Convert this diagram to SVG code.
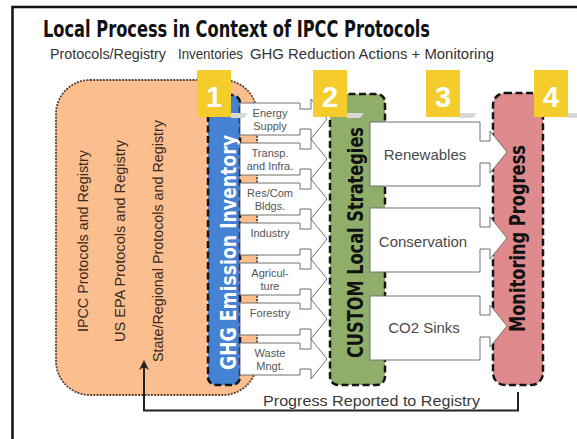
<svg xmlns="http://www.w3.org/2000/svg" width="577" height="439" viewBox="0 0 577 439">
<defs>
<marker id="ah" viewBox="0 0 10 10" refX="8" refY="5" markerWidth="5" markerHeight="5" orient="auto" markerUnits="strokeWidth">
<path d="M0,0 L10,5 L0,10 L3,5 Z" fill="#222"/>
</marker>
</defs>
<style>
.frame{fill:#fff;stroke:#111;stroke-width:2.5}
.dash{stroke:#151515;stroke-width:2.5;stroke-dasharray:7 3.5}
.odash{stroke:#5a4030;stroke-width:1.8;stroke-dasharray:2 1.2}
.item{fill:#fff;stroke:#707070;stroke-width:1}
.itxt{font-family:"Liberation Sans",Arial,sans-serif;font-size:11px;fill:#555;text-anchor:middle}
.stxt{font-family:"Liberation Sans",Arial,sans-serif;font-size:15px;fill:#4a4a4a;text-anchor:middle}
.otxt{font-family:"Liberation Sans",Arial,sans-serif;font-size:14px;fill:#3a2a20;text-anchor:middle}
.big{font-family:"DejaVu Sans Condensed","DejaVu Sans",sans-serif;font-weight:bold;font-size:22px;text-anchor:middle}
.num{font-family:"Liberation Sans",Arial,sans-serif;font-weight:bold;font-size:29px;fill:#fff;text-anchor:middle}
.yel{fill:#F4CC2C}
.shadow{fill:#d8d8d8}
.sub{font-family:"Liberation Sans",Arial,sans-serif;font-size:14px;fill:#333}
</style>
<rect class="frame" x="12.5" y="7" width="600" height="460"/>
<text x="43" y="37" font-family="DejaVu Sans Condensed, DejaVu Sans, sans-serif" font-weight="bold" font-size="23.5" fill="#111" textLength="387" lengthAdjust="spacingAndGlyphs">Local Process in Context of IPCC Protocols</text>
<text class="sub" y="59"><tspan x="50" textLength="116" lengthAdjust="spacingAndGlyphs">Protocols/Registry</tspan><tspan x="178" textLength="65" lengthAdjust="spacingAndGlyphs">Inventories</tspan><tspan x="250" textLength="244" lengthAdjust="spacingAndGlyphs">GHG Reduction Actions + Monitoring</tspan></text>

<g id="protocols">
<rect class="odash" x="56" y="80" width="201" height="315" rx="34" fill="#FBBE8F"/>
<text class="otxt" transform="translate(88,241) rotate(-90)" textLength="182" lengthAdjust="spacingAndGlyphs">IPCC Protocols and Registry</text>
<text class="otxt" transform="translate(125,241) rotate(-90)" textLength="202" lengthAdjust="spacingAndGlyphs">US EPA Protocols and Registry</text>
<text class="otxt" transform="translate(163,241) rotate(-90)" textLength="242" lengthAdjust="spacingAndGlyphs">State/Regional Protocols and Registry</text>
</g>

<g id="inventory">
<rect class="dash" x="208" y="95" width="32" height="290" rx="8" fill="#4582D3"/>
<text class="big" fill="#fff" transform="translate(236,252.5) rotate(-90)" textLength="235" lengthAdjust="spacingAndGlyphs">GHG Emission Inventory</text>
</g>

<g id="strategies">
<rect class="dash" x="330" y="94" width="55" height="291" rx="8" fill="#8FAE6A"/>
<text class="big" fill="#111" transform="translate(363,242.5) rotate(-90)" textLength="231" lengthAdjust="spacingAndGlyphs">CUSTOM Local Strategies</text>
</g>

<g id="monitoring">
<rect class="dash" x="493" y="93" width="50" height="292" rx="12" fill="#DF8B8D"/>
<text class="big" fill="#111" transform="translate(525,238.5) rotate(-90)" textLength="187" lengthAdjust="spacingAndGlyphs">Monitoring Progress</text>
</g>

<g id="item-energy">
<path class="item" d="M240,103 H300 V109 H311 V99 L327,119 L311,139 V129 H300 V135 H240 Z"/>
<text class="itxt" x="270" y="117">Energy</text><text class="itxt" x="270" y="130">Supply</text>
</g>
<g id="item-transp">
<path class="item" d="M240,143 H300 V149 H311 V139 L327,159 L311,179 V169 H300 V175 H240 Z"/>
<text class="itxt" x="270" y="157">Transp.</text><text class="itxt" x="270" y="170">and Infra.</text>
</g>
<g id="item-rescom">
<path class="item" d="M240,183 H300 V189 H311 V179 L327,199 L311,219 V209 H300 V215 H240 Z"/>
<text class="itxt" x="270" y="197">Res/Com</text><text class="itxt" x="270" y="210">Bldgs.</text>
</g>
<g id="item-industry">
<path class="item" d="M240,223 H300 V229 H311 V219 L327,239 L311,259 V249 H300 V255 H240 Z"/>
<text class="itxt" x="270" y="237">Industry</text>
</g>
<g id="item-agri">
<path class="item" d="M240,263 H300 V269 H311 V259 L327,279 L311,299 V289 H300 V295 H240 Z"/>
<text class="itxt" x="270" y="277">Agricul-</text><text class="itxt" x="270" y="290">ture</text>
</g>
<g id="item-forestry">
<path class="item" d="M240,303 H300 V309 H311 V299 L327,319 L311,339 V329 H300 V335 H240 Z"/>
<text class="itxt" x="270" y="317">Forestry</text>
</g>
<g id="item-waste">
<path class="item" d="M240,343 H300 V349 H311 V339 L327,359 L311,379 V369 H300 V375 H240 Z"/>
<text class="itxt" x="270" y="357">Waste</text><text class="itxt" x="270" y="370">Mngt.</text>
</g>

<g id="renewables">
<path class="item" d="M370,122 H480 V141 H490 V131 L507,152 L490,173 V163 H480 V186 H370 Z"/>
<text class="stxt" x="425" y="160">Renewables</text>
</g>
<g id="conservation">
<path class="item" d="M370,208 H480 V227 H490 V217 L507,238 L490,259 V249 H480 V272 H370 Z"/>
<text class="stxt" x="423" y="247">Conservation</text>
</g>
<g id="co2sinks">
<path class="item" d="M370,296 H480 V315 H490 V305 L507,326 L490,347 V337 H480 V360 H370 Z"/>
<text class="stxt" x="424" y="333">CO2 Sinks</text>
</g>

<g id="badge-1"><polygon class="shadow" points="231,113 248,113 244,118 231,118"/><rect class="yel" x="197" y="70" width="34" height="47"/><text class="num" x="214" y="107">1</text></g>
<g id="badge-2"><polygon class="shadow" points="347,113 364,113 360,118 347,118"/><rect class="yel" x="313" y="70" width="34" height="47"/><text class="num" x="330" y="107">2</text></g>
<g id="badge-3"><polygon class="shadow" points="460,113 477,113 473,118 460,118"/><rect class="yel" x="426" y="70" width="34" height="47"/><text class="num" x="443" y="107">3</text></g>
<g id="badge-4"><polygon class="shadow" points="568,113 577,113 577,118 568,118"/><rect class="yel" x="534" y="70" width="34" height="47"/><text class="num" x="551" y="107">4</text></g>

<g id="connectors">
<path d="M518,392 V410.5 H144 V362" fill="none" stroke="#222" stroke-width="2" marker-end="url(#ah)"/>
<text x="263" y="406" font-family="Liberation Sans, Arial, sans-serif" font-size="15.5" fill="#3a3a3a" textLength="217" lengthAdjust="spacingAndGlyphs">Progress Reported to Registry</text>
</g>
</svg>
